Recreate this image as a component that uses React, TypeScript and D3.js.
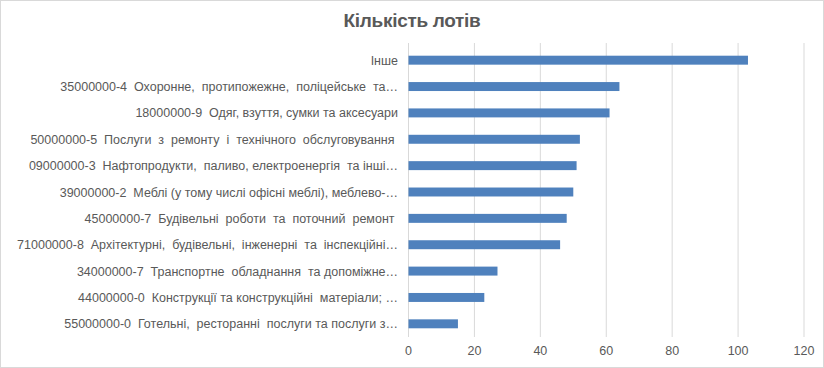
import React from 'react';
import * as d3 from 'd3';

const categories = [
  'Інше',
  '35000000-4  Охоронне,  протипожежне,  поліцейське  та…',
  '18000000-9  Одяг, взуття, сумки та аксесуари',
  '50000000-5  Послуги  з  ремонту  і  технічного  обслуговування ',
  '09000000-3  Нафтопродукти,  паливо, електроенергія  та інші…',
  '39000000-2  Меблі (у тому числі офісні меблі), меблево-…',
  '45000000-7  Будівельні  роботи  та  поточний  ремонт ',
  '71000000-8  Архітектурні,  будівельні,  інженерні  та  інспекційні…',
  '34000000-7  Транспортне  обладнання  та допоміжне…',
  '44000000-0  Конструкції та конструкційні  матеріали; …',
  '55000000-0  Готельні,  ресторанні  послуги та послуги з…',
];
const lots = [103, 64, 61, 52, 51, 50, 48, 46, 27, 23, 15];
const ticks = [0, 20, 40, 60, 80, 100, 120];

const width = 824;
const height = 368;
const plot = { left: 408.5, right: 804, top: 47, bottom: 337 };
const font = '"Liberation Sans", Arial, sans-serif';

export default function App() {
  const x = d3.scaleLinear().domain([0, 120]).range([plot.left, plot.right]);
  const y = d3.scaleBand().domain(categories).range([plot.top, plot.bottom]).paddingInner(0.66).paddingOuter(0.33);

  return (
    <svg width={width} height={height} style={{ position: 'absolute', left: 0, top: 0 }}>
      <rect x={0.5} y={0.5} width={width - 1} height={height - 1} fill="#fff" stroke="#d9d9d9" />
      <text x={412} y={27} textAnchor="middle" fontFamily={font} fontWeight="bold" fontSize={19}
        fill="#595959" letterSpacing={-0.3}>Кількість лотів</text>
      {ticks.map(t => (
        <g key={t}>
          <line x1={x(t)} x2={x(t)} y1={plot.top - 4} y2={plot.bottom} stroke="#d9d9d9" />
          <text x={x(t)} y={355} textAnchor="middle" fontFamily={font} fontSize={12.5} fill="#595959">{t}</text>
        </g>
      ))}
      {categories.map((c, i) => (
        <g key={c}>
          <rect x={x(0)} y={y(c)} width={x(lots[i]) - x(0)} height={y.bandwidth()} fill="#4f81bd" />
          <text x={398} y={(y(c) as number) + y.bandwidth() / 2 + 4.5} textAnchor="end" fontFamily={font}
            fontSize={12.5} fill="#595959" style={{ whiteSpace: 'pre' }}>{c}</text>
        </g>
      ))}
    </svg>
  );
}
